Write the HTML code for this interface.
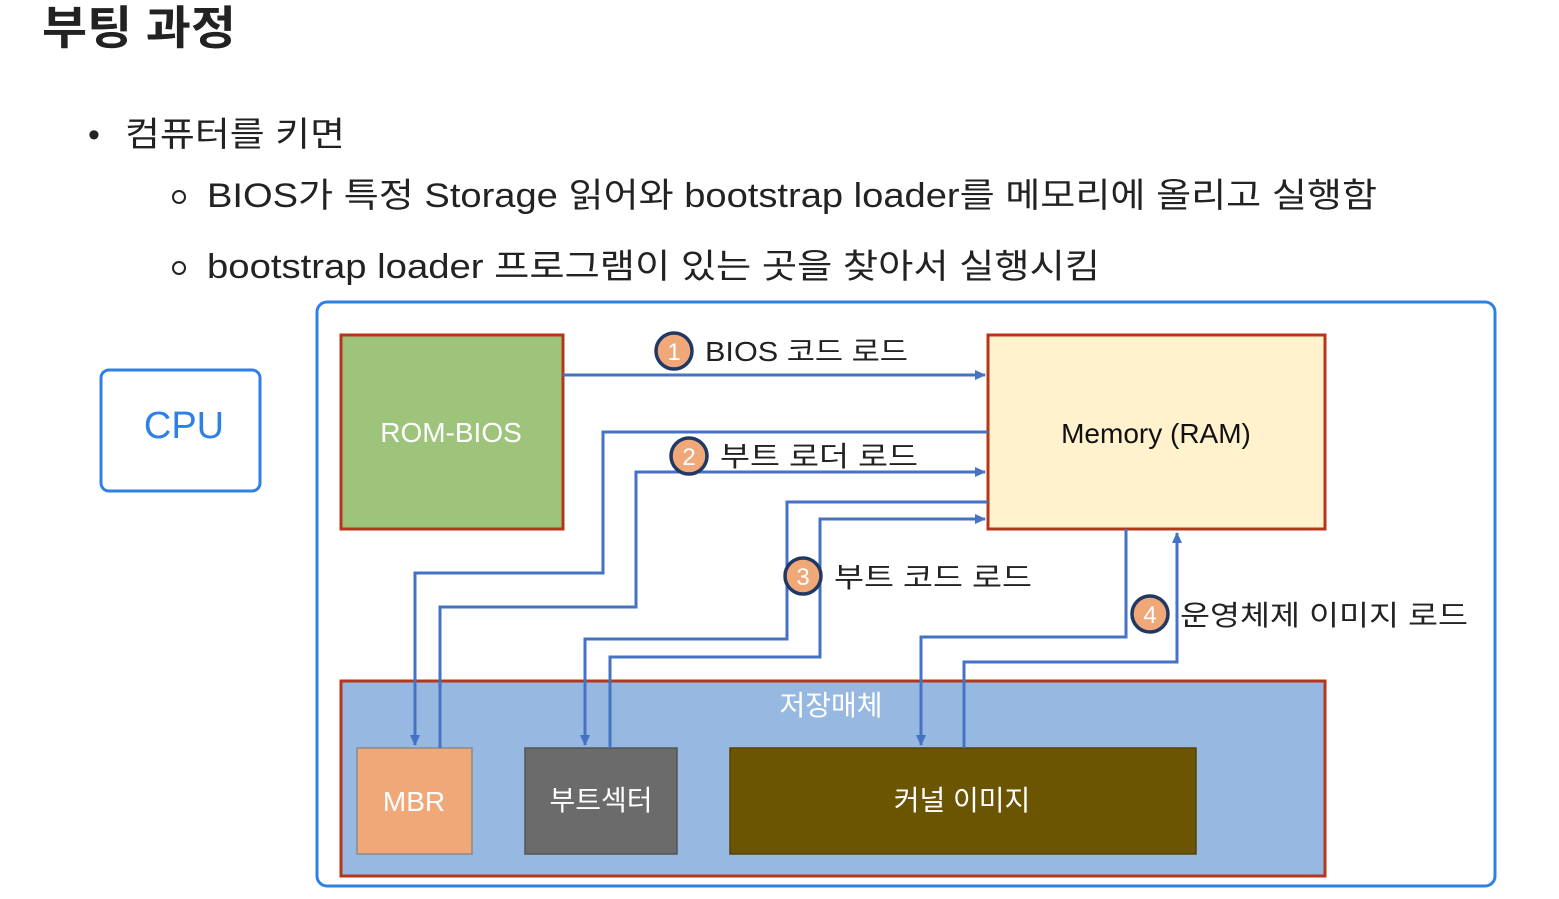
<!DOCTYPE html>
<html><head><meta charset="utf-8"><style>
html,body{margin:0;padding:0;background:#fff;width:1559px;height:899px;overflow:hidden}
svg{display:block}
text{font-family:"Liberation Sans","Noto Sans CJK KR",sans-serif}
</style></head><body>
<svg width="1559" height="899" viewBox="0 0 1559 899" xmlns="http://www.w3.org/2000/svg">
<defs>
<marker id="a" markerWidth="14" markerHeight="14" refX="10" refY="6" orient="auto" markerUnits="userSpaceOnUse">
<path d="M0,1 L11,6 L0,11 z" fill="#4472c4"/></marker>
</defs>
<text x="42" y="44" font-size="46" font-weight="bold" fill="#222" textLength="194" lengthAdjust="spacingAndGlyphs">부팅 과정</text>
<text x="88" y="146" font-size="34" fill="#222">•</text>
<text x="125" y="146" font-size="34" fill="#222" textLength="220" lengthAdjust="spacingAndGlyphs">컴퓨터를 키면</text>
<circle cx="179" cy="197" r="6" fill="none" stroke="#222" stroke-width="2"/>
<text x="207" y="207" font-size="34" fill="#222" textLength="1170" lengthAdjust="spacingAndGlyphs">BIOS가 특정 Storage 읽어와 bootstrap loader를 메모리에 올리고 실행함</text>
<circle cx="179" cy="268" r="6" fill="none" stroke="#222" stroke-width="2"/>
<text x="207" y="278" font-size="34" fill="#222" textLength="893" lengthAdjust="spacingAndGlyphs">bootstrap loader 프로그램이 있는 곳을 찾아서 실행시킴</text>

<rect x="101" y="370" width="159" height="121" rx="8" fill="none" stroke="#2f80e6" stroke-width="3"/>
<text x="184" y="438" font-size="38" fill="#2f80e6" text-anchor="middle" font-family="Liberation Serif,serif">CPU</text>

<rect x="317" y="302" width="1178" height="584" rx="10" fill="none" stroke="#2f80e6" stroke-width="3"/>

<rect x="341" y="335" width="222" height="194" fill="#9ec47c" stroke="#b5361b" stroke-width="3"/>
<text x="451" y="442" font-size="28" fill="#fff" text-anchor="middle">ROM-BIOS</text>
<rect x="988" y="335" width="337" height="194" fill="#fff2cc" stroke="#b5361b" stroke-width="3"/>
<text x="1156" y="443" font-size="28" fill="#111" text-anchor="middle">Memory (RAM)</text>

<rect x="341" y="681" width="984" height="195" fill="#97b9e1" stroke="#b5361b" stroke-width="3"/>
<text x="831" y="715" font-size="28" fill="#fff" text-anchor="middle">저장매체</text>
<rect x="357" y="748" width="115" height="106" fill="#f0a878" stroke="#8a8a8a" stroke-width="1.5"/>
<text x="414" y="811" font-size="28" fill="#fff" text-anchor="middle">MBR</text>
<rect x="525" y="748" width="152" height="106" fill="#6b6b6b" stroke="#555" stroke-width="1.5"/>
<text x="601" y="810" font-size="28" fill="#fff" text-anchor="middle">부트섹터</text>
<rect x="730" y="748" width="466" height="106" fill="#6b5402" stroke="#554200" stroke-width="1.5"/>
<text x="962" y="810" font-size="28" fill="#fff" text-anchor="middle">커널 이미지</text>

<g fill="none" stroke="#4472c4" stroke-width="3">
<path d="M563,375 H985" marker-end="url(#a)"/>
<path d="M988,432 H603 V573 H415 V745" marker-end="url(#a)"/>
<path d="M440,748 V607 H636 V472 H985" marker-end="url(#a)"/>
<path d="M988,502 H787 V639 H585 V745" marker-end="url(#a)"/>
<path d="M610,748 V657 H820 V519 H985" marker-end="url(#a)"/>
<path d="M1126,529 V637 H921 V745" marker-end="url(#a)"/>
<path d="M964,748 V662 H1177 V533" marker-end="url(#a)"/>
</g>

<g stroke="#1f3864" stroke-width="3.5" fill="#f0a878">
<circle cx="674" cy="351" r="18"/>
<circle cx="689" cy="456" r="18"/>
<circle cx="803" cy="576" r="18"/>
<circle cx="1150" cy="614" r="18"/>
</g>
<g fill="#fff" font-size="24" text-anchor="middle">
<text x="674" y="360">1</text>
<text x="689" y="465">2</text>
<text x="803" y="585">3</text>
<text x="1150" y="623">4</text>
</g>
<g fill="#222" font-size="28">
<text x="705" y="361" textLength="203" lengthAdjust="spacingAndGlyphs">BIOS 코드 로드</text>
<text x="720" y="466" textLength="198" lengthAdjust="spacingAndGlyphs">부트 로더 로드</text>
<text x="834" y="587" textLength="198" lengthAdjust="spacingAndGlyphs">부트 코드 로드</text>
<text x="1180" y="625" textLength="288" lengthAdjust="spacingAndGlyphs">운영체제 이미지 로드</text>
</g>
</svg>
</body></html>
